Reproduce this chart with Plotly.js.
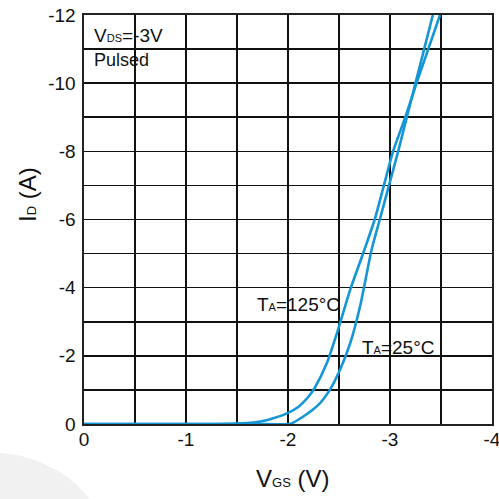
<!DOCTYPE html>
<html>
<head>
<meta charset="utf-8">
<script src="https://cdn.plot.ly/plotly-3.0.1.min.js"></script>
<style>
  html, body { margin: 0; padding: 0; background: #ffffff; }
  #chart { width: 499px; height: 499px; }
</style>
</head>
<body>
<div id="chart"></div>
<script>
// Transfer characteristics: drain current vs gate-source voltage (VDS = -3 V, pulsed)
const vgs125 = [0, -1.3, -1.5, -1.66, -1.8, -1.99, -2.1, -2.2, -2.26, -2.38, -2.49, -2.61, -2.75, -2.85, -2.94, -3.03, -3.15, -3.26, -3.375, -3.49];
const id125  = [0, 0, -0.01, -0.04, -0.12, -0.31, -0.5, -0.8, -1.05, -1.78, -2.76, -3.94, -5.12, -6.0, -7.0, -8.0, -9.0, -10.0, -11.0, -12.0];

const vgs25 = [0, -1.8, -2.02, -2.15, -2.31, -2.41, -2.51, -2.61, -2.71, -2.82, -2.90, -2.99, -3.08, -3.165, -3.25, -3.335, -3.42];
const id25  = [0, 0, 0, -0.22, -0.6, -1.0, -1.59, -2.37, -3.5, -5.12, -6.0, -7.0, -8.0, -9.0, -10.0, -11.0, -12.0];

const xTickVals = [0, -1, -2, -3, -4];
const xTickText = ['0', '-1', '-2', '-3', '-4'];
const yTickVals = [0, -2, -4, -6, -8, -10, -12];
const yTickText = ['0', '-2', '-4', '-6', '-8', '-10', '-12'];

const curveColor = '#1496d6';
const gridColor = '#111111';
const textFont = 'Liberation Sans, Arial, sans-serif';

const traces = [
  {
    x: vgs125, y: id125, type: 'scatter', mode: 'lines', name: 'TA=125°C',
    line: { color: curveColor, width: 2.6, shape: 'spline', smoothing: 0.6 },
    cliponaxis: false, hoverinfo: 'x+y'
  },
  {
    x: vgs25, y: id25, type: 'scatter', mode: 'lines', name: 'TA=25°C',
    line: { color: curveColor, width: 2.6, shape: 'spline', smoothing: 0.6 },
    cliponaxis: false, hoverinfo: 'x+y'
  }
];

const sub = (t) => `<span style="font-size:11px">${t}</span>`;

const layout = {
  width: 499,
  height: 499,
  margin: { l: 84, r: 7, t: 15, b: 75 },
  paper_bgcolor: '#ffffff',
  plot_bgcolor: '#ffffff',
  showlegend: false,
  font: { family: textFont, color: '#111111', size: 18 },
  xaxis: {
    range: [0, -4],
    tickvals: xTickVals,
    ticktext: xTickText,
    ticks: '',
    ticklabeloverflow: 'allow',
    ticklabelstandoff: -2,
    tickfont: { size: 19, family: textFont, color: '#111111' },
    showgrid: true,
    gridcolor: gridColor,
    gridwidth: 1.6,
    minor: { dtick: 0.5, tick0: 0, showgrid: true, gridcolor: gridColor, gridwidth: 1.6, ticks: '' },
    zeroline: false,
    showline: true,
    linecolor: '#222222',
    linewidth: 1.6,
    mirror: true,
    layer: 'below traces',
    fixedrange: true
  },
  yaxis: {
    range: [0, -12],
    tickvals: yTickVals,
    ticktext: yTickText,
    ticks: '',
    ticklabelstandoff: 3,
    ticklabeloverflow: 'allow',
    tickfont: { size: 19, family: textFont, color: '#111111' },
    showgrid: true,
    gridcolor: gridColor,
    gridwidth: 1.6,
    minor: { dtick: 1, tick0: 0, showgrid: true, gridcolor: gridColor, gridwidth: 1.6, ticks: '' },
    zeroline: false,
    showline: true,
    linecolor: '#222222',
    linewidth: 1.6,
    mirror: true,
    layer: 'below traces',
    fixedrange: true
  },
  shapes: [
    {
      // soft grey arc in the lower-left corner of the page
      type: 'path', xref: 'paper', yref: 'paper', layer: 'below',
      path: 'M -0.215,-0.0700 L -0.2059,-0.0709 L -0.1569,-0.0770 L -0.1078,-0.0929 L -0.0588,-0.1174 L -0.0221,-0.1443 L 0.0147,-0.1834 L 0.02,-0.195 L -0.215,-0.195 Z',
      fillcolor: '#f1f1f1',
      line: { width: 0 }
    }
  ],
  annotations: [
    {
      text: 'I' + `<span style="font-size:13px">D</span>` + ' (A)',
      xref: 'paper', yref: 'paper', x: -0.14, y: 0.562,
      xanchor: 'center', yanchor: 'middle', textangle: -90, showarrow: false,
      font: { size: 24, family: textFont, color: '#111111' }
    },
    {
      text: 'V' + `<span style="font-size:13px">GS</span>` + ' (V)',
      xref: 'paper', yref: 'paper', x: 0.512, y: -0.134,
      xanchor: 'center', yanchor: 'middle', showarrow: false,
      font: { size: 24, family: textFont, color: '#111111' }
    },
    {
      text: 'V' + sub('DS') + '=-3V',
      xref: 'paper', yref: 'paper', x: 0.02, y: 0.949,
      xanchor: 'left', yanchor: 'middle', showarrow: false,
      font: { size: 19, family: textFont, color: '#111111' }
    },
    {
      text: 'Pulsed',
      xref: 'paper', yref: 'paper', x: 0.02, y: 0.89,
      xanchor: 'left', yanchor: 'middle', showarrow: false,
      font: { size: 18, family: textFont, color: '#111111' }
    },
    {
      text: 'T' + sub('A') + '=125°C',
      xref: 'paper', yref: 'paper', x: 0.419, y: 0.293,
      xanchor: 'left', yanchor: 'middle', showarrow: false,
      font: { size: 19, family: textFont, color: '#111111' }
    },
    {
      text: 'T' + sub('A') + '=25°C',
      xref: 'paper', yref: 'paper', x: 0.676, y: 0.188,
      xanchor: 'left', yanchor: 'middle', showarrow: false,
      font: { size: 19, family: textFont, color: '#111111' }
    }
  ]
};

Plotly.newPlot('chart', traces, layout, { displayModeBar: false, staticPlot: true });
</script>
</body>
</html>
